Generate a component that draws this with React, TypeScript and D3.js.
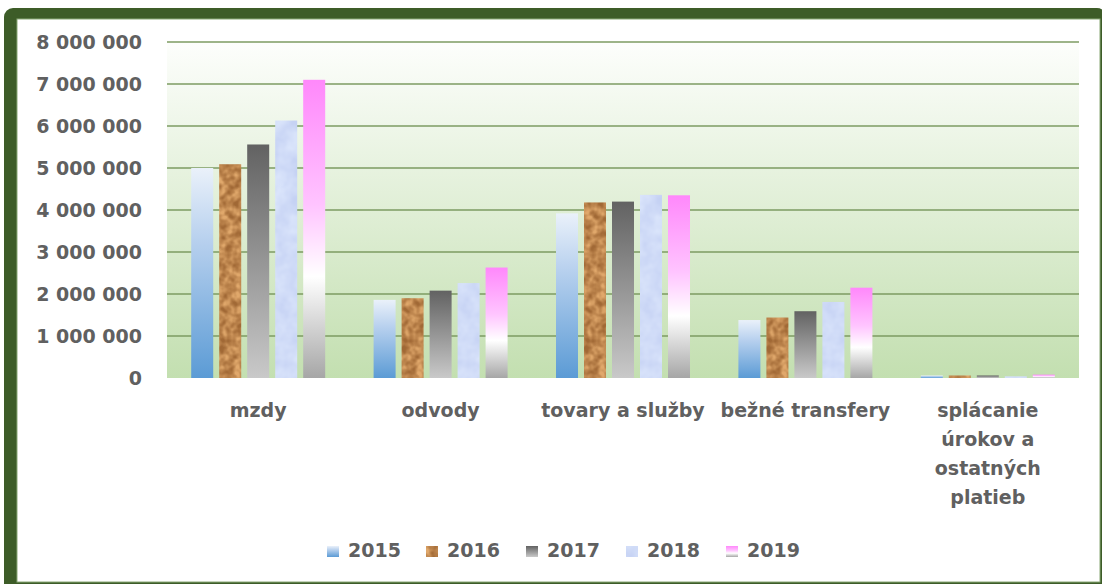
import React from "react";
import * as d3 from "d3";

const categories = [
  "mzdy",
  "odvody",
  "tovary a služby",
  "bežné transfery",
  "splácanie úrokov a ostatných platieb",
];
const categoryLines = [
  ["mzdy"],
  ["odvody"],
  ["tovary a služby"],
  ["bežné transfery"],
  ["splácanie", "úrokov a", "ostatných", "platieb"],
];
const years = ["2015", "2016", "2017", "2018", "2019"];
const values2015 = [5000000, 1860000, 3920000, 1380000, 60000];
const values2016 = [5090000, 1900000, 4180000, 1440000, 60000];
const values2017 = [5560000, 2080000, 4200000, 1590000, 60000];
const values2018 = [6130000, 2260000, 4360000, 1810000, 40000];
const values2019 = [7100000, 2630000, 4350000, 2150000, 80000];
const seriesValues = [values2015, values2016, values2017, values2018, values2019];
const yTicks = [0, 1000000, 2000000, 3000000, 4000000, 5000000, 6000000, 7000000, 8000000];

const W = 1102;
const H = 584;
const plot = { left: 167, right: 1079, top: 42, bottom: 378 };
const textColor = "#606060";
const font = "'DejaVu Sans', sans-serif";

const fills = ["url(#g2015)", "url(#g2016)", "url(#g2017)", "url(#g2018)", "url(#g2019)"];
const filters = [undefined, "url(#cork)", undefined, "url(#marble)", undefined];

export default function App() {
  const x0 = d3
    .scaleBand<string>()
    .domain(categories)
    .range([plot.left, plot.right])
    .paddingInner(0.2325)
    .paddingOuter(0.11625);
  const x1 = d3
    .scaleBand<string>()
    .domain(years)
    .range([0, x0.bandwidth()])
    .paddingInner(0.214)
    .paddingOuter(0.107);
  const y = d3.scaleLinear().domain([0, 8000000]).range([plot.bottom, plot.top]);
  const locale = d3.formatLocale({ decimal: ",", thousands: " ", grouping: [3], currency: ["", ""] });
  const fmt = locale.format(",d");

  const legendX = [327, 426, 526, 626, 726];

  return (
    <svg
      width={W}
      height={H}
      style={{ position: "absolute", left: 0, top: 0 }}
      fontFamily={font}
      fontWeight="bold"
    >
      <defs>
        <linearGradient id="plotBg" x1="0" y1="0" x2="0" y2="1">
          <stop offset="0" stopColor="#fdfefc" />
          <stop offset="1" stopColor="#c3dfb0" />
        </linearGradient>
        <linearGradient id="g2015" x1="0" y1="0" x2="0" y2="1">
          <stop offset="0" stopColor="#eaf1fa" />
          <stop offset="0.35" stopColor="#b7d0ee" />
          <stop offset="1" stopColor="#5b9bd5" />
        </linearGradient>
        <linearGradient id="g2016" x1="0" y1="0" x2="0" y2="1">
          <stop offset="0" stopColor="#c8905a" />
          <stop offset="1" stopColor="#c8905a" />
        </linearGradient>
        <linearGradient id="g2017" x1="0" y1="0" x2="0" y2="1">
          <stop offset="0" stopColor="#626262" />
          <stop offset="1" stopColor="#c9c9c9" />
        </linearGradient>
        <linearGradient id="g2018" x1="0" y1="0" x2="0" y2="1">
          <stop offset="0" stopColor="#cddcf7" />
          <stop offset="1" stopColor="#c6e6fb" />
        </linearGradient>
        <linearGradient id="g2019" x1="0" y1="0" x2="0" y2="1">
          <stop offset="0" stopColor="#ff88fb" />
          <stop offset="0.42" stopColor="#ffc4ff" />
          <stop offset="0.66" stopColor="#ffffff" />
          <stop offset="1" stopColor="#a6a6a6" />
        </linearGradient>
        <filter id="cork" x="0" y="0" width="1" height="1" colorInterpolationFilters="sRGB">
          <feTurbulence type="fractalNoise" baseFrequency="0.13" numOctaves="2" seed="4" result="noise" />
          <feComponentTransfer in="noise" result="contrast">
            <feFuncR type="table" tableValues="0 0.05 0.45 0.95 1" />
          </feComponentTransfer>
          <feColorMatrix
            in="contrast"
            type="matrix"
            values="0.27 0 0 0 0.62  0.27 0 0 0 0.40  0.23 0 0 0 0.20  0 0 0 0 1"
            result="col"
          />
          <feComposite in="col" in2="SourceGraphic" operator="in" />
        </filter>
        <filter id="marble" x="0" y="0" width="1" height="1" colorInterpolationFilters="sRGB">
          <feTurbulence type="fractalNoise" baseFrequency="0.05" numOctaves="3" seed="9" result="noise" />
          <feComponentTransfer in="noise" result="contrast">
            <feFuncR type="table" tableValues="0 0.15 0.5 0.85 1" />
          </feComponentTransfer>
          <feColorMatrix
            in="contrast"
            type="matrix"
            values="0.11 0 0 0 0.76  0.10 0 0 0 0.81  0.04 0 0 0 0.95  0 0 0 0 1"
            result="col"
          />
          <feComposite in="col" in2="SourceGraphic" operator="in" />
        </filter>
      </defs>

      {/* frame */}
      <rect x={4} y={8} width={W} height={H} rx={9} fill="#3d5c28" />
      <rect x={17} y={19} width={1083} height={563} fill="#ffffff" stroke="#8aa876" strokeWidth={1} />

      {/* plot background */}
      <rect
        x={plot.left}
        y={plot.top}
        width={plot.right - plot.left}
        height={plot.bottom - plot.top}
        fill="url(#plotBg)"
      />

      {/* gridlines */}
      {yTicks
        .filter((t) => t > 0)
        .map((t) => (
          <line
            key={t}
            x1={plot.left}
            x2={plot.right}
            y1={y(t)}
            y2={y(t)}
            stroke="#7d9b62"
            strokeWidth={1.5}
          />
        ))}

      {/* y tick labels */}
      {yTicks.map((t) => (
        <text key={t} x={142} y={y(t)} dy="0.36em" textAnchor="end" fontSize={19} fill={textColor}>
          {fmt(t)}
        </text>
      ))}

      {/* bars */}
      {categories.map((c, ci) => (
        <g key={c} transform={`translate(${x0(c)},0)`}>
          {years.map((yr, si) => {
            const v = seriesValues[si][ci];
            return (
              <rect
                key={yr}
                x={x1(yr)}
                y={y(v)}
                width={x1.bandwidth()}
                height={y(0) - y(v)}
                fill={fills[si]}
                filter={filters[si]}
              />
            );
          })}
        </g>
      ))}

      {/* category labels */}
      {categories.map((c, ci) => (
        <text
          key={c}
          x={(x0(c) as number) + x0.bandwidth() / 2}
          y={417}
          textAnchor="middle"
          fontSize={19}
          fill={textColor}
        >
          {categoryLines[ci].map((line, li) => (
            <tspan key={li} x={(x0(c) as number) + x0.bandwidth() / 2} dy={li === 0 ? 0 : 29}>
              {line}
            </tspan>
          ))}
        </text>
      ))}

      {/* legend */}
      {years.map((yr, si) => (
        <g key={yr}>
          <rect x={legendX[si]} y={546} width={12} height={11} fill={fills[si]} filter={filters[si]} />
          <text x={legendX[si] + 21} y={556.5} fontSize={19} fill={textColor}>
            {yr}
          </text>
        </g>
      ))}
    </svg>
  );
}
